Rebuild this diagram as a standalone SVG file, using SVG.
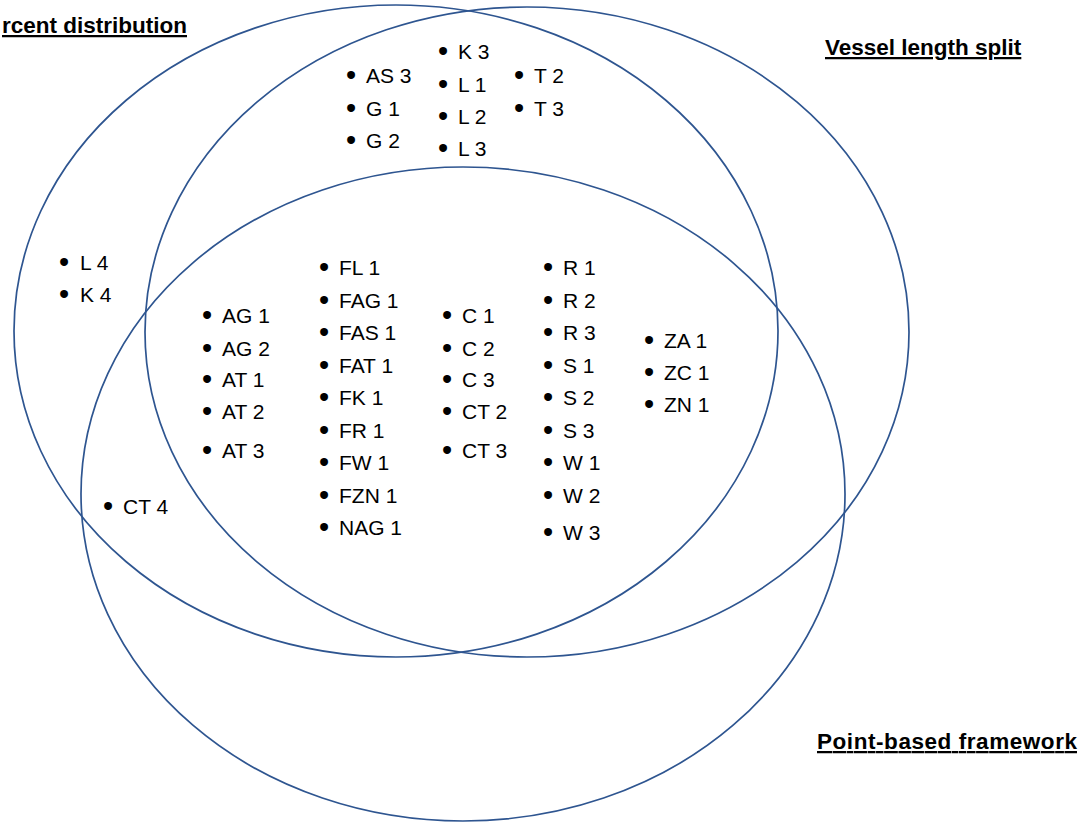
<svg xmlns="http://www.w3.org/2000/svg" width="1089" height="822" viewBox="0 0 1089 822">
<style>
.set{fill:none;stroke:#2E5590;stroke-width:1.7}
.title{font-family:"Liberation Sans",Arial,sans-serif;font-weight:bold;font-size:22.5px;fill:#000;text-decoration:underline}
.it{font-family:"Liberation Sans",Arial,sans-serif;font-size:21px;fill:#000}
.b{font-family:"Liberation Sans",Arial,sans-serif;font-size:29px;fill:#000;text-anchor:middle}
</style>
<rect width="1089" height="822" fill="#fff"/>
<g id="set-percent">
<ellipse class="set" cx="396" cy="331" rx="382" ry="326"/>
<text class="title" x="187" y="33" text-anchor="end">rcent distribution</text>
</g>
<g id="set-vessel">
<ellipse class="set" cx="527" cy="332" rx="382" ry="325"/>
<text class="title" x="825" y="55">Vessel length split</text>
</g>
<g id="set-point">
<ellipse class="set" cx="463" cy="494" rx="382" ry="327"/>
<text class="title" x="817" y="749" textLength="260">Point-based framework</text>
</g>
<g id="items-L4K4" transform="translate(0,0)">
<text class="b" x="64" y="272">•</text><text class="it" x="80" y="270">L 4</text>
<text class="b" x="64" y="304">•</text><text class="it" x="80" y="302">K 4</text>
</g>
<g id="items-CT4">
<text class="b" x="108" y="516">•</text><text class="it" x="123" y="514">CT 4</text>
</g>
<g id="items-AS-G">
<text class="b" x="351" y="85">•</text><text class="it" x="366" y="83">AS 3</text>
<text class="b" x="351" y="117.5">•</text><text class="it" x="366" y="115.5">G 1</text>
<text class="b" x="351" y="150">•</text><text class="it" x="366" y="148">G 2</text>
</g>
<g id="items-K3-L">
<text class="b" x="443" y="61">•</text><text class="it" x="458" y="59">K 3</text>
<text class="b" x="443" y="93.5">•</text><text class="it" x="458" y="91.5">L 1</text>
<text class="b" x="443" y="126">•</text><text class="it" x="458" y="124">L 2</text>
<text class="b" x="443" y="158">•</text><text class="it" x="458" y="156">L 3</text>
</g>
<g id="items-T">
<text class="b" x="519" y="85">•</text><text class="it" x="534" y="83">T 2</text>
<text class="b" x="519" y="117.5">•</text><text class="it" x="534" y="115.5">T 3</text>
</g>
<g id="items-AG-AT">
<text class="b" x="207" y="325">•</text><text class="it" x="222" y="323">AG 1</text>
<text class="b" x="207" y="358">•</text><text class="it" x="222" y="356">AG 2</text>
<text class="b" x="207" y="389">•</text><text class="it" x="222" y="387">AT 1</text>
<text class="b" x="207" y="421">•</text><text class="it" x="222" y="419">AT 2</text>
<text class="b" x="207" y="460">•</text><text class="it" x="222" y="458">AT 3</text>
</g>
<g id="items-F">
<text class="b" x="324" y="277">•</text><text class="it" x="339" y="275">FL 1</text>
<text class="b" x="324" y="309.5">•</text><text class="it" x="339" y="307.5">FAG 1</text>
<text class="b" x="324" y="342">•</text><text class="it" x="339" y="340">FAS 1</text>
<text class="b" x="324" y="374.5">•</text><text class="it" x="339" y="372.5">FAT 1</text>
<text class="b" x="324" y="407">•</text><text class="it" x="339" y="405">FK 1</text>
<text class="b" x="324" y="439.5">•</text><text class="it" x="339" y="437.5">FR 1</text>
<text class="b" x="324" y="472">•</text><text class="it" x="339" y="470">FW 1</text>
<text class="b" x="324" y="504.5">•</text><text class="it" x="339" y="502.5">FZN 1</text>
<text class="b" x="324" y="537">•</text><text class="it" x="339" y="535">NAG 1</text>
</g>
<g id="items-C-CT">
<text class="b" x="447" y="325">•</text><text class="it" x="462" y="323">C 1</text>
<text class="b" x="447" y="358">•</text><text class="it" x="462" y="356">C 2</text>
<text class="b" x="447" y="389">•</text><text class="it" x="462" y="387">C 3</text>
<text class="b" x="447" y="421">•</text><text class="it" x="462" y="419">CT 2</text>
<text class="b" x="447" y="460">•</text><text class="it" x="462" y="458">CT 3</text>
</g>
<g id="items-R-S-W">
<text class="b" x="548" y="277">•</text><text class="it" x="563" y="275">R 1</text>
<text class="b" x="548" y="309.5">•</text><text class="it" x="563" y="307.5">R 2</text>
<text class="b" x="548" y="342">•</text><text class="it" x="563" y="340">R 3</text>
<text class="b" x="548" y="374.5">•</text><text class="it" x="563" y="372.5">S 1</text>
<text class="b" x="548" y="407">•</text><text class="it" x="563" y="405">S 2</text>
<text class="b" x="548" y="439.5">•</text><text class="it" x="563" y="437.5">S 3</text>
<text class="b" x="548" y="472">•</text><text class="it" x="563" y="470">W 1</text>
<text class="b" x="548" y="504.5">•</text><text class="it" x="563" y="502.5">W 2</text>
<text class="b" x="548" y="542">•</text><text class="it" x="563" y="540">W 3</text>
</g>
<g id="items-Z">
<text class="b" x="649" y="350">•</text><text class="it" x="664" y="348">ZA 1</text>
<text class="b" x="649" y="382">•</text><text class="it" x="664" y="380">ZC 1</text>
<text class="b" x="649" y="414">•</text><text class="it" x="664" y="412">ZN 1</text>
</g>
</svg>
